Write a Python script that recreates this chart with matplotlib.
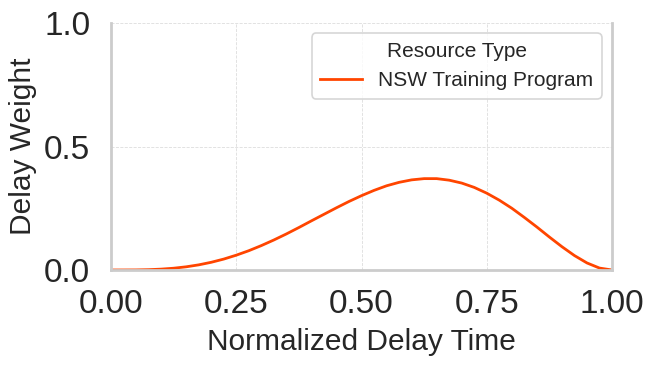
import numpy as np
import matplotlib.pyplot as plt

# values
delay_time = [0.0, 0.025, 0.05, 0.075, 0.1, 0.125, 0.15, 0.175, 0.2, 0.225,
              0.25, 0.275, 0.3, 0.325, 0.35, 0.375, 0.4, 0.425, 0.45, 0.475,
              0.5, 0.525, 0.55, 0.575, 0.6, 0.625, 0.65, 0.675, 0.7, 0.725,
              0.75, 0.775, 0.8, 0.825, 0.85, 0.875, 0.9, 0.925, 0.95, 0.975, 1.0]
delay_weight = [0.0, 0.0001, 0.0003, 0.0013, 0.0035, 0.0072, 0.0129, 0.0208, 0.0312, 0.0442,
                0.060, 0.0781, 0.0988, 0.1215, 0.146, 0.172, 0.199, 0.2255, 0.252, 0.2775,
                0.301, 0.3224, 0.341, 0.355, 0.365, 0.370, 0.370, 0.3637, 0.352, 0.3344,
                0.311, 0.2827, 0.250, 0.2128, 0.174, 0.1334, 0.0943, 0.0584, 0.0285, 0.0078, 0.0]
series_name = "NSW Training Program"
legend_title = "Resource Type"

plt.rcParams['font.family'] = ['Liberation Sans', 'DejaVu Sans']

fig = plt.figure(figsize=(6.56, 3.66), dpi=100)
ax = fig.add_axes([0.1692, 0.2623, 0.7638, 0.6747])

ax.plot(delay_time, delay_weight, color="#FF4500", lw=2, label=series_name)

ax.set_xlim(0, 1)
ax.set_ylim(0, 1)
ax.set_xticks([0, 0.25, 0.5, 0.75, 1.0])
ax.set_xticklabels(["0.00", "0.25", "0.50", "0.75", "1.00"])
ax.set_yticks([0, 0.5, 1.0])
ax.set_yticklabels(["0.0", "0.5", "1.0"])
ax.tick_params(labelsize=24, length=0, colors="#262626")
ax.tick_params(axis="x", pad=13.5)
ax.tick_params(axis="y", pad=15)

ax.set_xlabel("Normalized Delay Time", fontsize=21.5, color="#262626", labelpad=6)
ax.set_ylabel("Delay Weight", fontsize=21.5, color="#262626", labelpad=5)

ax.grid(True, ls="--", lw=0.6, color="#dddddd")
ax.set_axisbelow(True)
ax.spines["top"].set_visible(False)
for s in ["left", "right", "bottom"]:
    ax.spines[s].set_color("#cccccc")
    ax.spines[s].set_linewidth(2)

leg = ax.legend(title=legend_title, loc="upper right", fontsize=15, title_fontsize=15,
                frameon=True, fancybox=True)
leg.get_frame().set_edgecolor("#cccccc")
leg.get_frame().set_linewidth(1.2)
for t in leg.get_texts():
    t.set_color("#262626")
leg.get_title().set_color("#262626")

plt.savefig("out.png", dpi=100)
